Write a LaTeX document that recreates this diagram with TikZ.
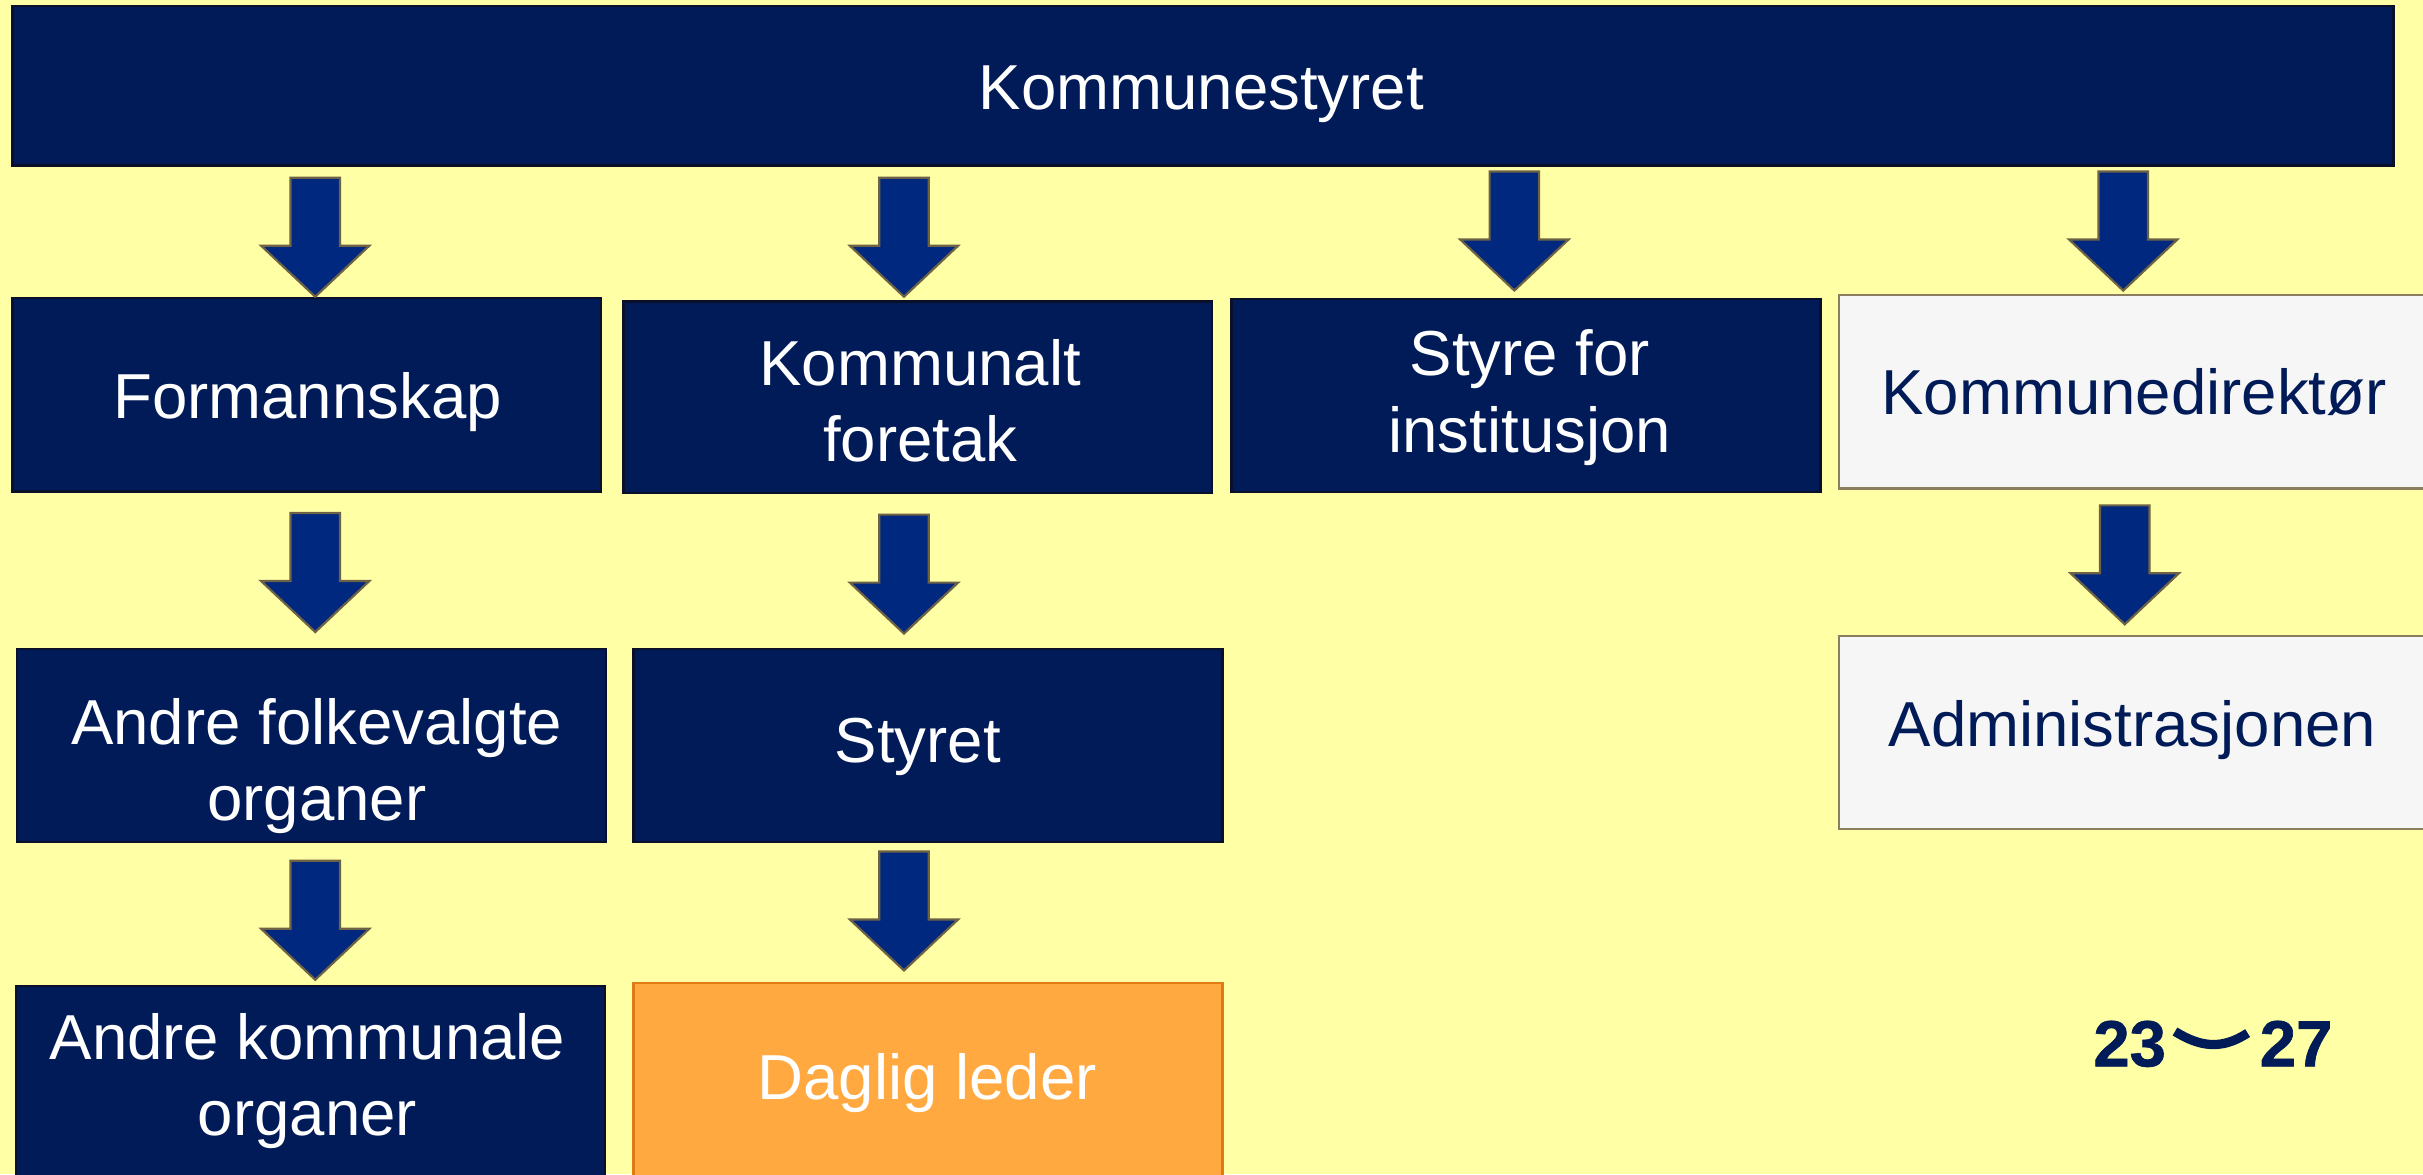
\documentclass[tikz,border=0pt]{standalone}
\usepackage{fontspec}
\setmainfont{Liberation Sans}
\newfontfamily\logofont{Liberation Sans Bold}[FakeBold=1.0]
\definecolor{bg}{HTML}{FFFFA5}
\definecolor{navy}{HTML}{001B57}
\definecolor{boxline}{HTML}{0A0F2A}
\definecolor{arrowfill}{HTML}{00287F}
\definecolor{arrowline}{HTML}{6E6246}
\definecolor{lightfill}{HTML}{F6F6F6}
\definecolor{lightline}{HTML}{8A7D60}
\definecolor{orangefill}{HTML}{FFA940}
\definecolor{orangeline}{HTML}{E07A14}
\newcommand\boxfont{\fontsize{11.7}{14.1}\selectfont}
\begin{document}
\begin{tikzpicture}[x=0.1mm,y=-0.1mm,
  basebox/.style={line width=0.45pt, inner sep=0pt,
    minimum width=38.1mm, minimum height=12.5mm},
  navybox/.style={basebox, draw=boxline, fill=navy},
  lightbox/.style={basebox, draw=lightline, fill=lightfill, minimum width=38.6mm},
  orangebox/.style={basebox, draw=orangeline, fill=orangefill},
  wtext/.style={text=white, font=\boxfont, align=center, inner sep=0pt, anchor=base},
  ntext/.style={wtext, text=navy},
  arrowstyle/.style={draw=arrowline, fill=arrowfill, line width=0.4pt, line join=miter},
  blockarrow/.pic={\path[arrowstyle] (-16,0) -- (16,0) -- (16,44) -- (35,44) -- (0,77) -- (-35,44) -- (-16,44) -- cycle;},
  logo/.style={text=navy, font=\fontsize{12}{14}\selectfont\logofont, inner sep=0pt}
]
\useasboundingbox (0,0) rectangle (1568,760);
\clip (0,0) rectangle (1568,760);
\fill[bg] (0,0) rectangle (1568,760);

% top box
\node[navybox, minimum width=154.1mm, minimum height=10.3mm] (ks) at (778.5,55.5) {};
\node[wtext] (ks-t) at (777.5,70.7) {Kommunestyret};

% row 1 (multi-line texts are anchored at the baseline of their last line)
\node[navybox] (fm) at (198.5,255.5) {};
\node[wtext] (fm-t) at (199,270.7) {Formannskap};
\node[navybox, minimum height=12.4mm] (kf) at (594,257) {};
\node[wtext] (kf-t) at (595.5,298.7) {Kommunalt\\foretak};
\node[navybox] (sfi) at (987.5,256) {};
\node[wtext] (sfi-t) at (990,292.7) {Styre for\\institusjon};
\node[lightbox] (kd) at (1383,253.5) {};
\node[ntext] (kd-t) at (1381,268.5) {Kommunedirektør};

% row 2
\node[navybox] (afo) at (201.5,482.5) {};
\node[wtext] (afo-t) at (205,531) {Andre folkevalgte\\organer};
\node[navybox] (st) at (600.5,482.5) {};
\node[wtext] (st-t) at (594,493.5) {Styret};
\node[lightbox] (adm) at (1383,474) {};
\node[ntext] (adm-t) at (1380,482.8) {Administrasjonen};

% row 3
\node[navybox, minimum height=13.4mm] (ako) at (201,705) {};
\node[wtext] (ako-t) at (199,734.9) {Andre kommunale\\organer};
\node[orangebox, minimum height=13.6mm] (dl) at (600.5,704) {};
\node[wtext] (dl-t) at (600,711.7) {Daglig leder};

% block arrows
\pic at (204,115) {blockarrow};
\pic at (585,115) {blockarrow};
\pic at (980,111) {blockarrow};
\pic at (1374,111) {blockarrow};
\pic at (204,332) {blockarrow};
\pic at (585,333) {blockarrow};
\pic at (1375,327) {blockarrow};
\pic at (204,557) {blockarrow};
\pic at (585,551) {blockarrow};

% logo
\node[logo, anchor=base west] (l23) at (1354,690) {23};
\node[logo, anchor=base east] (l27) at (1510,690) {27};
\draw[navy, line width=1.7pt, line cap=butt] (1407.5,667.5) .. controls (1423,677) and (1437,680) .. (1454.5,668.5);
\end{tikzpicture}
\end{document}
